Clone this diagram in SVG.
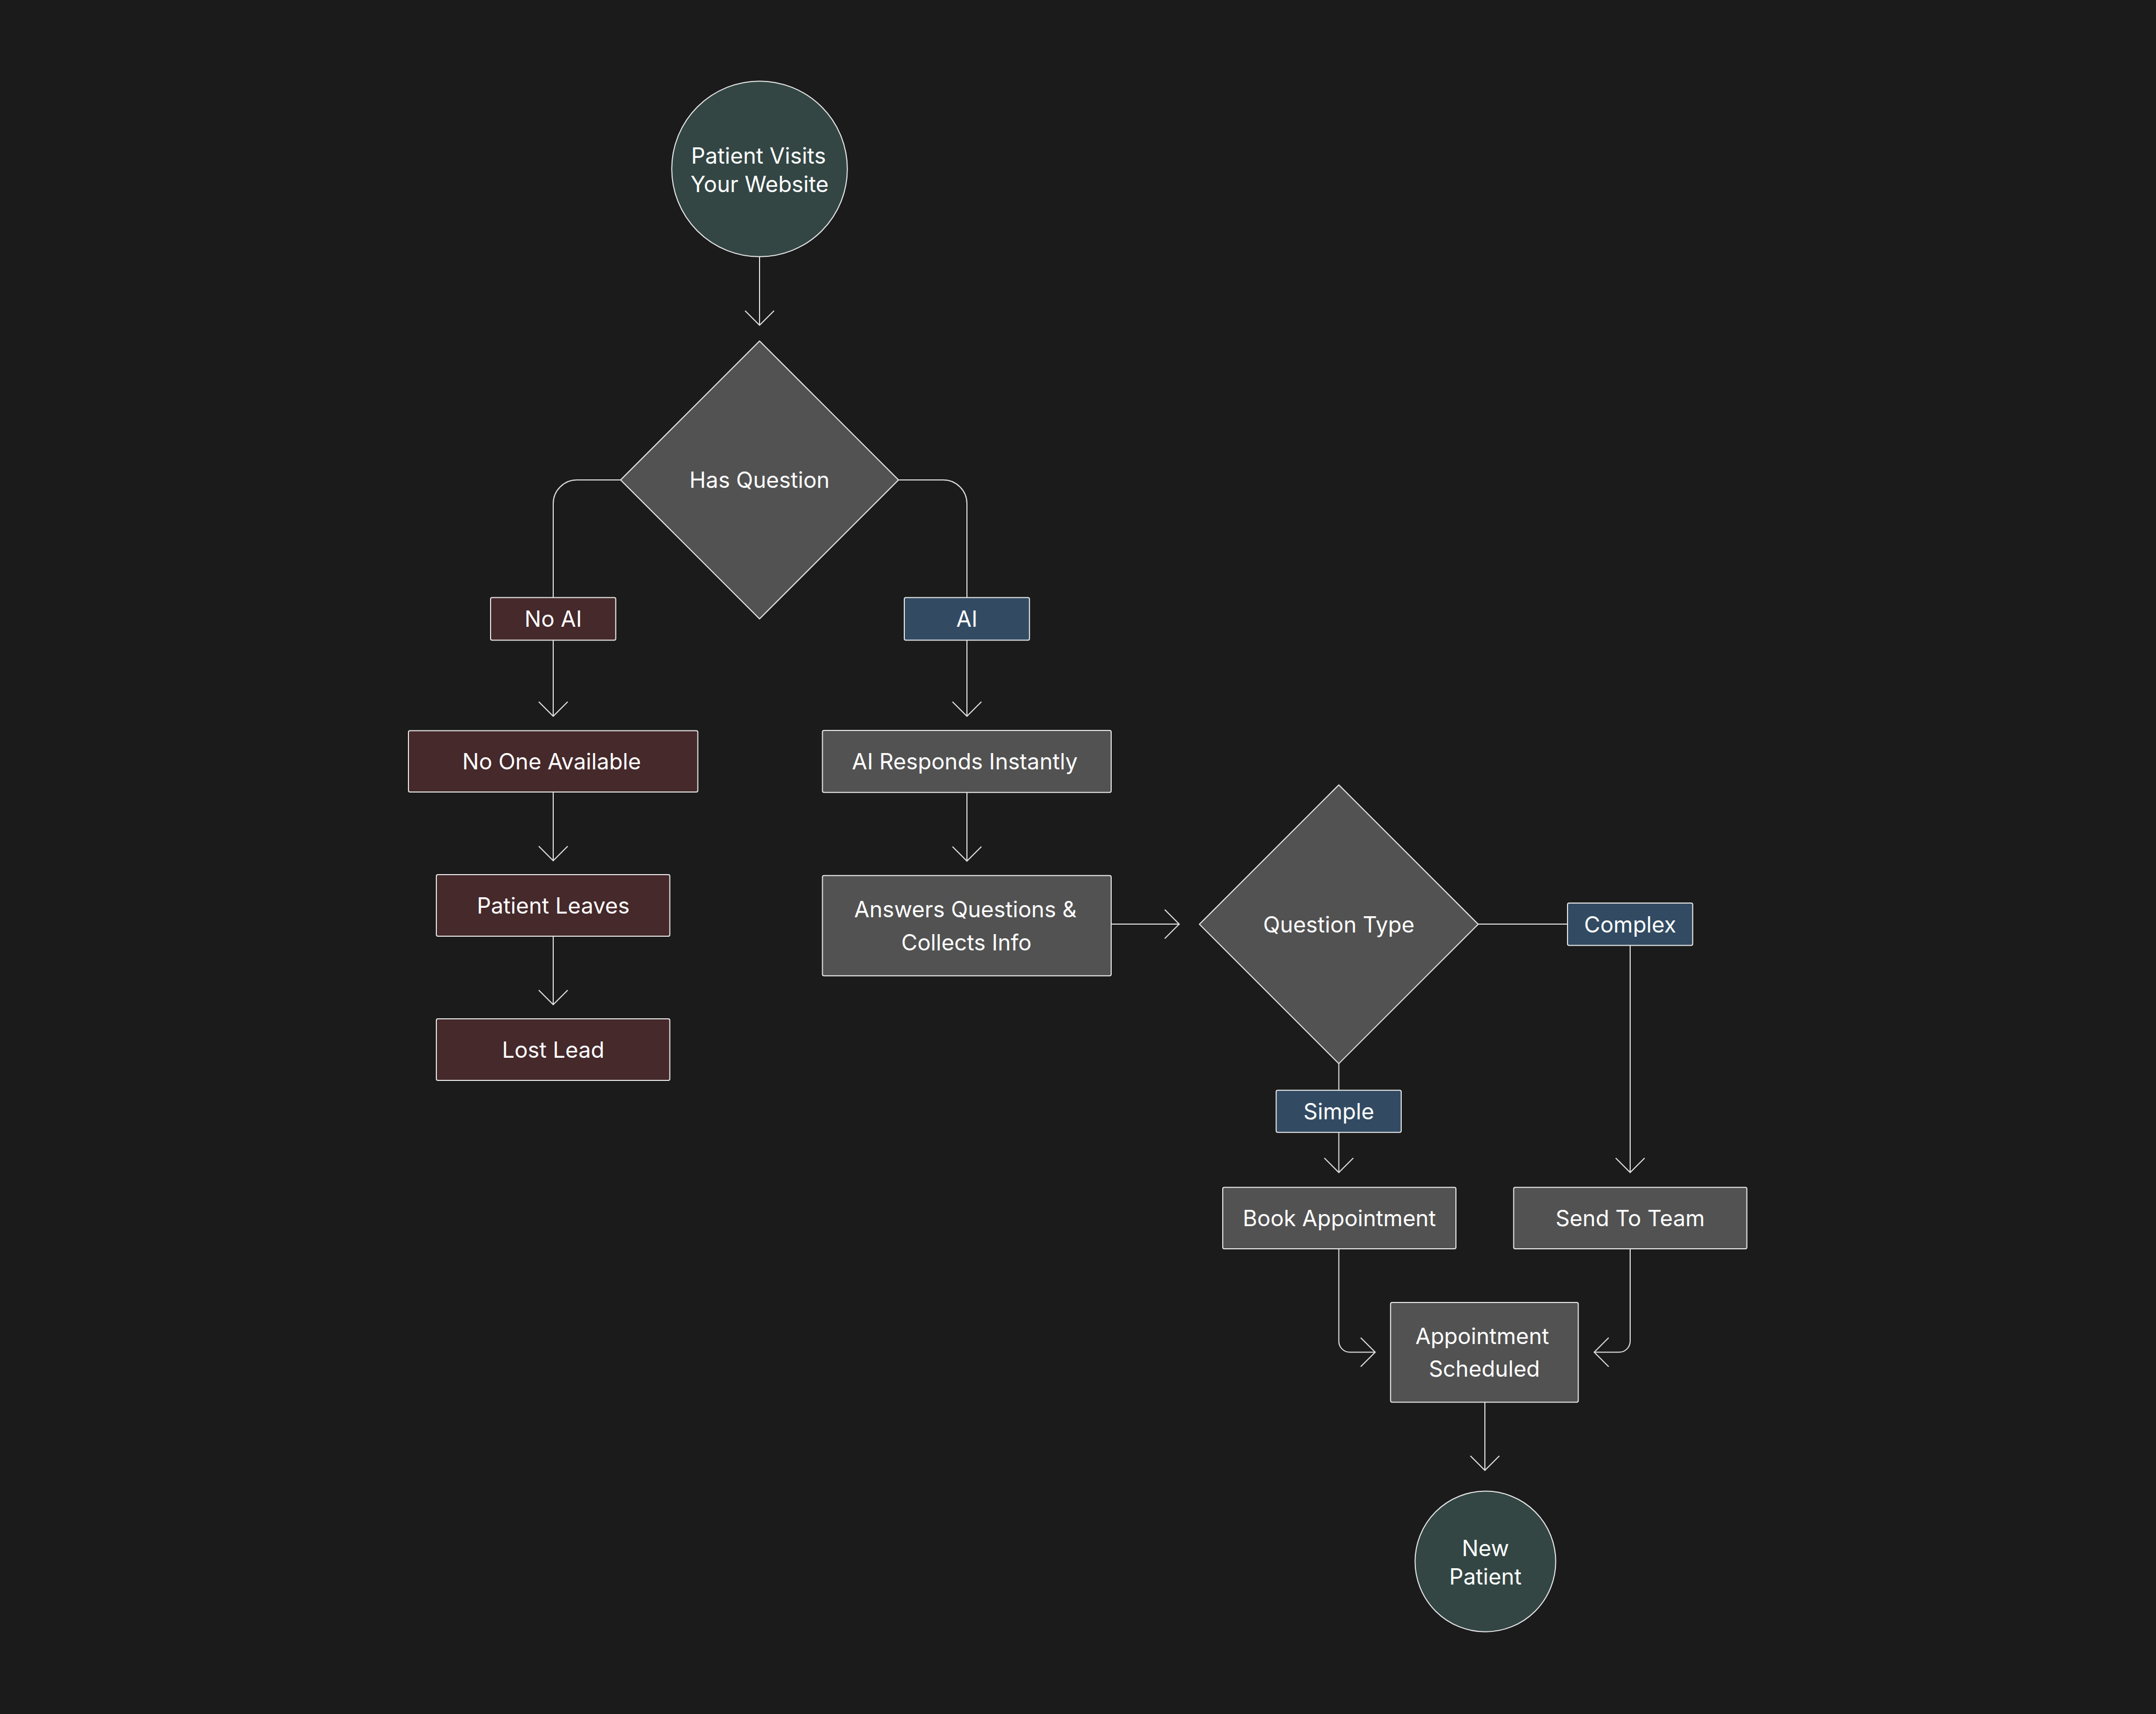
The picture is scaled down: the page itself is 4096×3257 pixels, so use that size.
<svg xmlns="http://www.w3.org/2000/svg" width="4096" height="3257" viewBox="0 0 4096 3257">
<defs>
<style>
.bg{fill:#1b1b1b}
.node{stroke:#e6e6e6;stroke-width:2;stroke-linejoin:round}
.gray{fill:#525252}
.red{fill:#45292b}
.blue{fill:#324b63}
.teal{fill:#334644}
.t{font-family:Inter,"Noto Sans","Liberation Sans",sans-serif;font-size:42px;fill:#ffffff;text-anchor:middle}
.c{fill:none;stroke:#e0e0e0;stroke-width:2}
</style>
<marker id="arr" markerUnits="userSpaceOnUse" orient="auto" markerWidth="64" markerHeight="64" viewBox="-32 -32 64 64" refX="0" refY="0" overflow="visible">
<path d="M-27.5,-27.5 L0,0 L-27.5,27.5" fill="none" stroke="#e0e0e0" stroke-width="2"/>
</marker>
</defs>
<rect class="bg" x="0" y="0" width="4096" height="3257"/>

<g id="connectors">
<path class="c" d="M1443,488 V618" marker-end="url(#arr)"/>
<path class="c" d="M1179,912 H1096 A45,45 0 0 0 1051,957 V1135.6"/>
<path class="c" d="M1051,1216.6 V1361" marker-end="url(#arr)"/>
<path class="c" d="M1707,912 H1792 A45,45 0 0 1 1837,957 V1135.6"/>
<path class="c" d="M1837,1216.6 V1361" marker-end="url(#arr)"/>
<path class="c" d="M1051,1505 V1635.5" marker-end="url(#arr)"/>
<path class="c" d="M1051,1779 V1909" marker-end="url(#arr)"/>
<path class="c" d="M1837,1506 V1636.3" marker-end="url(#arr)"/>
<path class="c" d="M2111,1756 H2240.3" marker-end="url(#arr)"/>
<path class="c" d="M2808,1756 H2978"/>
<path class="c" d="M3097,1796.5 V2228" marker-end="url(#arr)"/>
<path class="c" d="M2543.5,2021 V2071.7"/>
<path class="c" d="M2543.5,2151.7 V2228" marker-end="url(#arr)"/>
<path class="c" d="M2543.5,2373 V2548.5 A21,21 0 0 0 2564.5,2569.5 H2612.6" marker-end="url(#arr)"/>
<path class="c" d="M3097,2373 V2548.5 A21,21 0 0 1 3076,2569.5 H3028.7" marker-end="url(#arr)"/>
<path class="c" d="M2821,2664.5 V2794" marker-end="url(#arr)"/>
</g>

<g id="start">
<circle class="node teal" cx="1443" cy="321" r="166.8"/>
<text class="t" x="1441" y="311">Patient Visits</text>
<text class="t" x="1443" y="364.7">Your Website</text>
</g>

<g id="has-question">
<polygon class="node gray" points="1443,648 1707,912 1443,1176 1179,912"/>
<text class="t" x="1443" y="927">Has Question</text>
</g>

<g id="label-no-ai">
<rect class="node red" x="932" y="1135.6" width="237.8" height="81" rx="3"/>
<text class="t" x="1051" y="1191">No AI</text>
</g>

<g id="label-ai">
<rect class="node blue" x="1718" y="1135.6" width="237.8" height="81" rx="3"/>
<text class="t" x="1837" y="1191">AI</text>
</g>

<g id="no-one-available">
<rect class="node red" x="776" y="1388.5" width="549.7" height="116.6" rx="3"/>
<text class="t" x="1048" y="1462">No One Available</text>
</g>

<g id="patient-leaves">
<rect class="node red" x="829" y="1662" width="443.5" height="117" rx="3"/>
<text class="t" x="1051" y="1736">Patient Leaves</text>
</g>

<g id="lost-lead">
<rect class="node red" x="829" y="1935.9" width="443.5" height="117" rx="3"/>
<text class="t" x="1051" y="2010">Lost Lead</text>
</g>

<g id="ai-responds">
<rect class="node gray" x="1562.5" y="1388" width="548.5" height="117.8" rx="3"/>
<text class="t" x="1833" y="1462">AI Responds Instantly</text>
</g>

<g id="answers-questions">
<rect class="node gray" x="1562.5" y="1663.7" width="548.5" height="190.5" rx="3"/>
<text class="t" x="1834" y="1742.5">Answers Questions &amp;</text>
<text class="t" x="1836" y="1806.3">Collects Info</text>
</g>

<g id="question-type">
<polygon class="node gray" points="2543.5,1491.5 2808.3,1756.3 2543.5,2021.1 2278.7,1756.3"/>
<text class="t" x="2543.5" y="1771.5">Question Type</text>
</g>

<g id="label-complex">
<rect class="node blue" x="2978" y="1715.9" width="237.8" height="80.6" rx="3"/>
<text class="t" x="3097" y="1771.5">Complex</text>
</g>

<g id="label-simple">
<rect class="node blue" x="2424.5" y="2071.7" width="237.5" height="80" rx="3"/>
<text class="t" x="2543.5" y="2127">Simple</text>
</g>

<g id="book-appointment">
<rect class="node gray" x="2323" y="2256.3" width="443" height="116.8" rx="3"/>
<text class="t" x="2544.5" y="2330">Book Appointment</text>
</g>

<g id="send-to-team">
<rect class="node gray" x="2875.7" y="2256.3" width="443" height="116.8" rx="3"/>
<text class="t" x="3097" y="2330">Send To Team</text>
</g>

<g id="appointment-scheduled">
<rect class="node gray" x="2641.8" y="2475" width="356.6" height="189.5" rx="3"/>
<text class="t" x="2816" y="2554.3">Appointment</text>
<text class="t" x="2820" y="2616.4">Scheduled</text>
</g>

<g id="new-patient">
<circle class="node teal" cx="2822" cy="2967.2" r="133.6"/>
<text class="t" x="2822" y="2956.5">New</text>
<text class="t" x="2822" y="3010.8">Patient</text>
</g>
</svg>
